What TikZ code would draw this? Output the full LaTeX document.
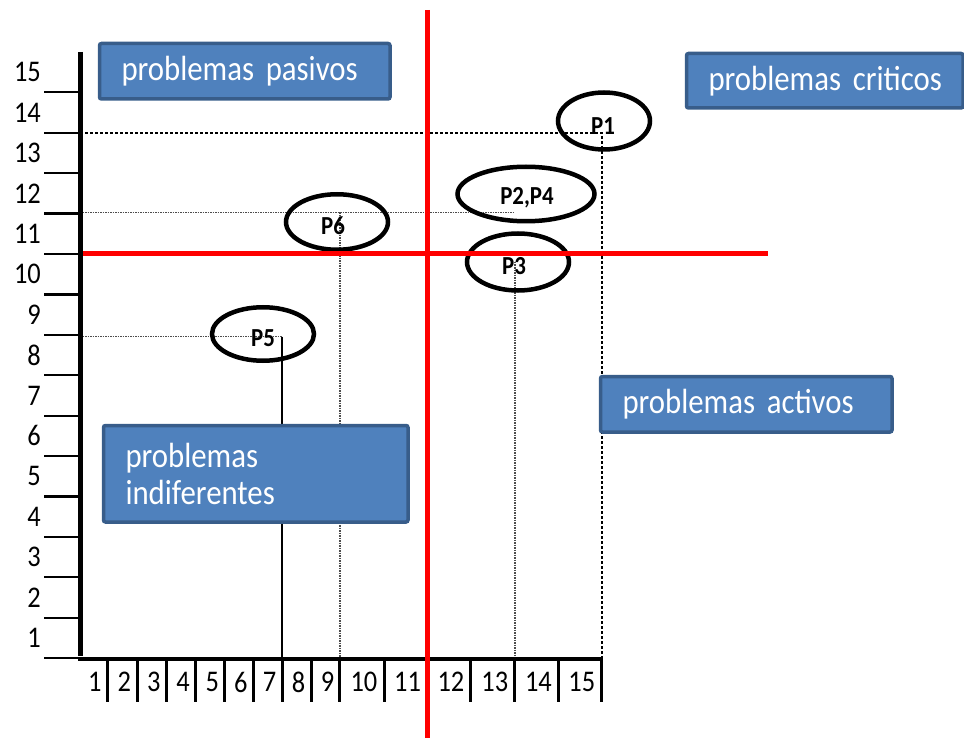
\documentclass[tikz,border=0pt]{standalone}
\usepackage{fontspec}
\setmainfont[FakeStretch=0.88]{Carlito}
\usepackage{xcolor}
\usetikzlibrary{positioning,shapes.geometric,calc}

\definecolor{boxblue}{HTML}{4F81BD}
\definecolor{boxedge}{HTML}{385D8A}
\hyphenpenalty=10000
\exhyphenpenalty=10000
\newcommand{\boxfont}{\fontsize{35}{37}\selectfont\spaceskip=4.5pt\relax}

\begin{document}
\begin{tikzpicture}[x=1pt, y=-1pt,
  bluebox/.style={draw=boxedge, line width=3.5pt, fill=boxblue, rounded corners=2pt,
    text=white, font=\boxfont, align=left, anchor=north west,
    inner xsep=22pt, inner ysep=0pt},
  oval/.style={draw, ellipse, line width=4.5pt, inner sep=0pt},
  plabel/.style={inner sep=0pt, font=\fontsize{26}{28}\selectfont\bfseries},
  guide/.style={black!70, line width=1.2pt, dash pattern=on 1.5pt off 1pt},
  redline/.style={red, line width=5pt}]
  \useasboundingbox (0,0) rectangle (964,738);
  \coordinate (origin) at (80,658);
  \coordinate (ytop) at (80,52);
  \coordinate (xend) at (602,658);
  % Points of the chart
  \coordinate (v1) at (601.7,132.7);
  \coordinate (v24) at (515,212.5);
  \coordinate (v6) at (340,212.5);
  \coordinate (v3) at (514.9,262);
  \coordinate (v5) at (282,336.7);
  % Guide lines to the axes
  \draw[black, line width=1.7pt, dash pattern=on 3pt off 2pt] (origin |- v1) -- (v1) -- (v1 |- origin);
  \draw[guide] (origin |- v24) -- (v24);
  \draw[guide] (v6) -- (v6 |- origin);
  \draw[guide] (v3) -- (v3 |- origin);
  \draw[guide] (origin |- v5) -- (v5);
  \draw[black, line width=2pt] (v5) -- (v5 |- origin);
  % Axes
  \draw[line width=5pt] (ytop) -- ([yshift=2pt]origin);
  \draw[line width=4pt] ([xshift=-2pt,yshift=-1pt]origin) -- ([yshift=-1pt]xend);
  % Y ticks and numbers
  \foreach \k in {0,...,14} {
    \draw[line width=2.2pt] (44,{658-\k*40.4}) -- (80,{658-\k*40.4});
  }
  \foreach \k in {1,...,15} {
    \node[anchor=east, inner sep=0pt, font=\fontsize{30}{32}\selectfont] (y\k) at (41,{658-(\k-0.5)*40.4}) {\k};
  }
  % X ticks and numbers
  \foreach \xa/\xb [count=\n] in {78/107.4, 107.4/137.2, 137.2/166.6, 166.6/195.7, 195.7/224.7,
      224.7/253.1, 253.1/282.1, 282.1/311.2, 311.2/339.9, 339.9/384, 384/427, 427/470.8,
      470.8/514.9, 514.9/558, 558/601.7} {
    \draw[line width=3pt] (\xb,658) -- (\xb,702);
    \node[inner sep=0pt, font=\fontsize{30}{32}\selectfont] (x\n) at ({(\xa+\xb)/2+2},682) {\n};
  }
  % Ellipses round the problems
  \node[oval, minimum width=92pt, minimum height=57pt] (p1) at (604,121) {};
  \node[oval, minimum width=137pt, minimum height=54.5pt] (p24) at (526,194) {};
  \node[oval, minimum width=102pt, minimum height=57pt] (p3) at (518,262) {};
  \node[oval, minimum width=102pt, minimum height=55.5pt] (p6) at (337,222) {};
  \node[oval, minimum width=102pt, minimum height=53.5pt] (p5) at (263,334) {};
  \node[plabel] (lp1) at (603,126) {P1};
  \node[plabel] (lp24) at (527,198) {P2,P4};
  \node[plabel] (lp3) at (514,266) {P3};
  \node[plabel] (lp6) at (333,226) {P6};
  \node[plabel] (lp5) at (263,338) {P5};
  % Red quadrant lines
  \draw[redline] (427.5,10) -- (427.5,738);
  \draw[redline] ([xshift=3pt]origin |- 0,254) -- (768,254);
  % Quadrant names
  \node[bluebox, text width=246.5pt, minimum height=55.5pt] (pasivos) at (97.75,41.75) {\mbox{problemas pasivos}};
  \node[bluebox, text width=232.5pt, minimum height=54.5pt] (criticos) at (684.75,51.75) {\mbox{problemas criticos}};
  \node[bluebox, text width=247.5pt, minimum height=55.5pt] (activos) at (598.75,374.75) {\mbox{problemas activos}};
  \node[bluebox, text width=260.5pt, minimum height=96.5pt] (indiferentes) at (101.75,423.75) {problemas\\indiferentes};
\end{tikzpicture}
\end{document}
